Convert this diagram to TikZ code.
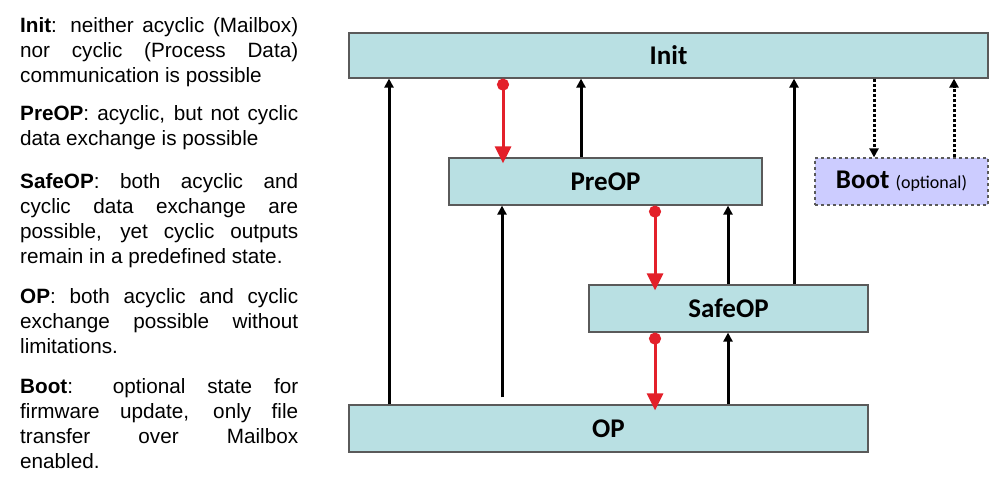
\documentclass[tikz,border=0pt]{standalone}
\usepackage{fontspec}
\setmainfont{Liberation Sans}
\newfontfamily\calibri{Carlito}
\usetikzlibrary{arrows.meta}
\definecolor{StateFill}{HTML}{B9E0E3}
\definecolor{BootFill}{HTML}{CCCCFF}
\definecolor{Frame}{HTML}{5A5A5A}
\definecolor{Red}{HTML}{E3202A}
\tikzset{
  state/.style={draw=Frame,line width=1.2pt,fill=StateFill,inner sep=0pt,
    font=\calibri\bfseries\fontsize{27}{27}\selectfont},
  up/.style={line width=3pt,-{Triangle[length=9pt,width=9pt]}},
  down/.style={Red,line width=3pt,{Circle[length=12pt]}-{Triangle[length=17pt,width=16pt]},shorten >=-6pt},
  opt/.style={line width=3pt,dash pattern=on 3pt off 2pt,-{Triangle[length=9pt,width=9pt]}}
}

\begin{document}
\begin{tikzpicture}[x=1pt,y=-1pt]
  \useasboundingbox (0,0) rectangle (1008,486);
  % states
  \node[state,minimum width=639pt,minimum height=45pt] (init) at (668.5,55.5) {Init};
  \node[state,minimum width=313pt,minimum height=47pt] (preop) at (605.5,181.5) {PreOP};
  \node[state,minimum width=279pt,minimum height=47pt] (safeop) at (728.5,308.5) {SafeOP};
  \node[state,minimum width=519pt,minimum height=47pt] (op) at (608.5,428.5) {OP};
  \node[state,fill=BootFill,dashed,minimum width=173pt,minimum height=47pt] (boot) at (901.5,181.5)
    {Boot {\mdseries\fontsize{18}{18}\selectfont(optional)}};
  % transitions back up
  \foreach \x/\from/\to in {389/op/init,581/preop/init,728/safeop/preop,794/safeop/init,728/op/safeop}
    \draw[up] (\from.north -| \x,0) -- (\to.south -| \x,0);
  \draw[up,shorten <=7pt] (op.north -| 502,0) -- (preop.south -| 502,0);
  % transitions down
  \foreach \x/\from/\to in {503/init/preop,655/preop/safeop,655/safeop/op}
    \draw[down] (\from.south -| \x,0) -- (\to.north -| \x,0);
  % boot
  \draw[opt] (init.south -| 874,0) -- (boot.north -| 874,0);
  \draw[opt] (boot.north -| 954,0) -- (init.south -| 954,0);
  % description
  \node[anchor=north west,text width=278pt,align=justify,inner sep=0pt,
    font=\fontsize{20.7}{25}\selectfont] (desc) at (20,17) {\setlength{\parskip}{13pt}\hyphenpenalty=10000
    \textbf{Init}: neither acyclic (Mailbox)\linebreak nor cyclic (Process Data)\linebreak communication is possible\par
    \textbf{PreOP}: acyclic, but not cyclic\linebreak data exchange is possible\par\vspace{5pt}
    \textbf{SafeOP}: both acyclic and\linebreak cyclic data exchange are\linebreak possible, yet cyclic outputs\linebreak remain in a predefined state.\par\vspace{2pt}
    \textbf{OP}: both acyclic and cyclic\linebreak exchange possible without\linebreak limitations.\par\vspace{2pt}
    \textbf{Boot}: optional state for\linebreak firmware update, only file\linebreak transfer over Mailbox\linebreak enabled.};
\end{tikzpicture}
\end{document}
